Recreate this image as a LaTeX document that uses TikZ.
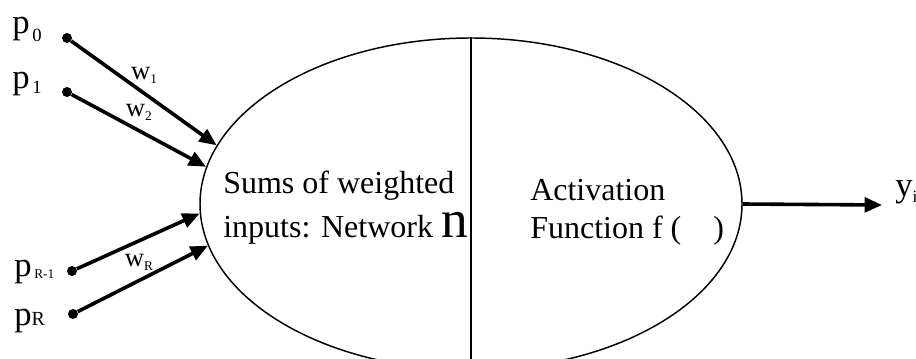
\documentclass[tikz,border=0pt]{standalone}
\usepackage{fontspec}
\setmainfont{Liberation Serif}
\usetikzlibrary{shapes.geometric,arrows.meta,positioning}

\begin{document}
\begin{tikzpicture}[
    x=0.75pt, y=0.75pt,
    neuron/.style={ellipse, draw, line width=1.1pt, minimum width=406.5pt, minimum height=249pt, inner sep=0pt},
    dot/.style={circle, fill=black, inner sep=0pt, minimum size=7.5pt},
    arrow/.style={-{Triangle[length=13pt,width=11pt]}, line width=2.7pt},
    plabel/.style={font=\fontsize{26}{28}\selectfont, inner sep=0pt, anchor=base west},
    wlabel/.style={font=\fontsize{20}{22}\selectfont, above, inner sep=6pt},
    body/.style={font=\fontsize{24}{33}\selectfont, align=left, inner sep=0pt, anchor=base west}
]
\useasboundingbox (0,0) rectangle (916,358);
\clip (0,0) rectangle (916,358);

% Neuron body, split in two halves
\node[neuron] (neuron) at (471,154) {};
\draw[line width=1.1pt] (neuron.north) -- (neuron.south);

% Inputs
\node[dot] (p0) at (67,320) {};
\node[dot] (p1) at (67,266) {};
\node[dot] (pR1) at (72,87) {};
\node[dot] (pR) at (73,44) {};

\node[plabel] (lp0) at (12,325) {p\kern2pt\raisebox{-6pt}{\fontsize{14}{14}\selectfont 0}};
\node[plabel] (lp1) at (12,270) {p\kern2pt\raisebox{-4pt}{\fontsize{14}{14}\selectfont 1}};
\node[plabel] (lpR1) at (14,82) {p\kern2pt\raisebox{-2pt}{\fontsize{10}{10}\selectfont R-1}};
\node[plabel] (lpR) at (14,33) {p{\fontsize{15}{15}\selectfont R}};

% Weighted connections
\draw[arrow] (p0) -- node[wlabel] {w\raisebox{-3pt}{\fontsize{10}{10}\selectfont 1}} (neuron.167.8);
\draw[arrow] (p1) -- node[wlabel] {w\raisebox{-3pt}{\fontsize{10}{10}\selectfont 2}} (neuron.172.7);
\draw[arrow] (pR1) -- (neuron.182.3);
\draw[arrow] (pR) -- node[wlabel, pos=0.47] {w\raisebox{-3pt}{\fontsize{10}{10}\selectfont R}} (neuron.189.6);

% Texts inside the neuron
\node[body] (sum) at (223,121) {Sums of weighted\\inputs: Network {\fontsize{40}{40}\selectfont n}};
\node[body, font=\fontsize{24}{28.5}\selectfont] (act) at (530,120) {Activation\\Function f (\quad)};

% Output
\coordinate (out) at (882,153);
\draw[arrow] (neuron.east) -- (out);
\node[plabel] (yi) at (895,162) {y\raisebox{-5pt}{\fontsize{13}{13}\selectfont i}};

\end{tikzpicture}
\end{document}
